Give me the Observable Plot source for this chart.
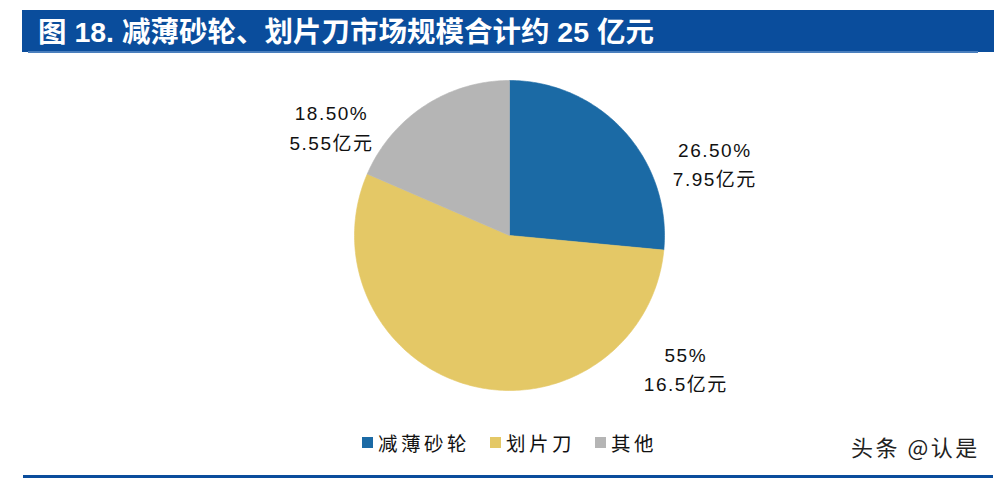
<!DOCTYPE html>
<html>
<head>
<meta charset="utf-8">
<script src="https://cdn.jsdelivr.net/npm/d3@7"></script>
<script src="https://cdn.jsdelivr.net/npm/@observablehq/plot@0.6"></script>
<style>
  html, body { margin: 0; padding: 0; background: #fff; }
  #wrap { position: relative; width: 998px; height: 478px; overflow: hidden; background: #fff;
          font-family: "Liberation Sans", "Noto Sans CJK SC", sans-serif; }
  #titlebar { position: absolute; left: 22px; top: 10px; width: 972px; height: 42px; background: #0a4d9c; }
  #titleline { position: absolute; left: 28px; top: 51px; width: 950px; height: 2px; background: #4a7fbd; }
  #title { position: absolute; left: 38px; top: 10px; height: 42px; line-height: 44px; color: #fff;
           font-size: 28.5px; font-weight: bold; white-space: nowrap; }
  #chart { position: absolute; left: 229px; top: 65px; }
  #legend { position: absolute; left: 362px; top: 428px; display: flex; align-items: center;
            font-family: "Noto Sans CJK SC", sans-serif; font-size: 19.5px; color: #111; }
  .item { display: flex; align-items: center; margin-right: 20px; }
  .sw { width: 11px; height: 11px; margin-right: 5px; }
  .lab { letter-spacing: 3.5px; }
  #mark { position: absolute; left: 851px; top: 430px; font-family: "Noto Sans CJK SC", sans-serif;
          font-size: 22px; letter-spacing: 2.5px; color: #222; white-space: nowrap; }
  #bottomline { position: absolute; left: 23px; top: 475px; width: 970px; height: 3px; background: #0a4d9c; }
</style>
</head>
<body>
<div id="wrap">
  <div id="titlebar"></div>
  <div id="titleline"></div>
  <div id="title"></div>
  <div id="chart"></div>
  <div id="legend"></div>
  <div id="mark"></div>
  <div id="bottomline"></div>
</div>
<script>
// ---- data ----
const titleText = "图 18. 减薄砂轮、划片刀市场规模合计约 25 亿元";
const categories = ["减薄砂轮", "划片刀", "其他"];
const shares = [26.5, 55, 18.5];                 // percent
const shareLabels = ["26.50%", "55%", "18.50%"];
const amountLabels = ["7.95亿元", "16.5亿元", "5.55亿元"];
const colors = ["#1b6aa5", "#e4c866", "#b5b5b5"];
const watermark = "头条 @认是";

// ---- layout (label placement, in radius units: angle clockwise from top, distance) ----
const labelPolar = { "减薄砂轮": [71.1, 1.40], "划片刀": [127.3, 1.43], "其他": [301.0, 1.34] };

document.getElementById("title").textContent = titleText;
document.getElementById("mark").textContent = watermark;

// pie geometry derived from shares
const total = d3.sum(shares);
const pts = [];
let cum = 0;
categories.forEach((name, i) => {
  const a0 = cum / total * 2 * Math.PI;
  cum += shares[i];
  const a1 = cum / total * 2 * Math.PI;
  const n = Math.ceil(shares[i] * 4);
  pts.push({name, x: 0, y: 0});
  for (let k = 0; k <= n; k++) {
    const a = a0 + (a1 - a0) * k / n;
    pts.push({name, x: Math.sin(a), y: Math.cos(a)});
  }
  pts.push({name, x: 0, y: 0});
});

const labels = categories.map((name, i) => {
  const [deg, r] = labelPolar[name];
  const a = deg * Math.PI / 180;
  return {name, x: r * Math.sin(a), y: r * Math.cos(a), text: shareLabels[i] + "\n" + amountLabels[i]};
});

const W = 560, H = 340, R = 155;
const plot = Plot.plot({
  width: W, height: H,
  margin: 0,
  x: {domain: [-W / 2 / R, W / 2 / R], axis: null},
  y: {domain: [-H / 2 / R, H / 2 / R], axis: null},
  color: {domain: categories, range: colors},
  style: {background: "transparent", overflow: "visible"},
  marks: [
    Plot.line(pts, {x: "x", y: "y", z: "name", fill: "name", stroke: "name", strokeWidth: 0.6, curve: "linear"}),
    Plot.text(labels, {x: "x", y: "y", text: "text", fontSize: 19, lineHeight: 1.55, dy: -3, fill: "#111",
      fontFamily: "Liberation Sans, Noto Sans CJK SC, sans-serif", textAnchor: "middle"})
  ]
});
plot.querySelectorAll("text").forEach(t => t.style.letterSpacing = "1.5px");
document.getElementById("chart").appendChild(plot);

// legend
const leg = document.getElementById("legend");
categories.forEach((name, i) => {
  const it = document.createElement("div");
  it.className = "item";
  const sw = document.createElement("div");
  sw.className = "sw";
  sw.style.background = colors[i];
  const lb = document.createElement("span");
  lb.className = "lab";
  lb.textContent = name;
  it.appendChild(sw); it.appendChild(lb);
  leg.appendChild(it);
});
</script>
</body>
</html>
